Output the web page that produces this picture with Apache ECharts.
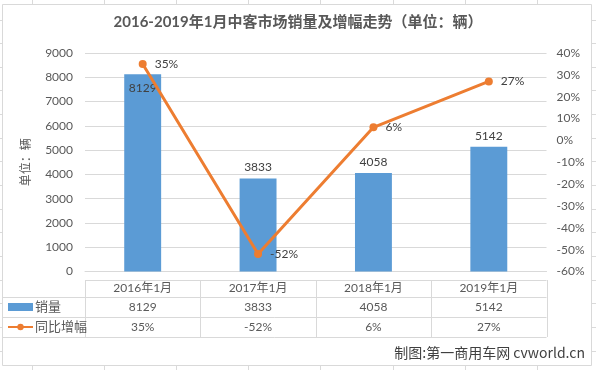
<!DOCTYPE html>
<html><head><meta charset="utf-8">
<script src="https://cdn.jsdelivr.net/npm/echarts@6/dist/echarts.min.js"></script>
<style>html,body{margin:0;padding:0;background:#fff}#c{width:596px;height:370px}</style>
</head><body><div id="c"></div>
<script>
// ---- data ----
const titleText = '2016-2019年1月中客市场销量及增幅走势（单位：辆）';
const categories = ['2016年1月', '2017年1月', '2018年1月', '2019年1月'];
const salesName = '销量';
const growthName = '同比增幅';
const sales = [8129, 3833, 4058, 5142];
const growth = [35, -52, 6, 27];
const leftAxis = { min: 0, max: 9000, interval: 1000 };
const rightAxis = { min: -60, max: 40, interval: 10 };
const yAxisTitle = '单位：辆';
const credit = '制图:第一商用车网 cvworld.cn';

// ---- layout ----
const W = 596, H = 370;
const G = { left: 85, right: 546.5, top: 53, bottom: 271.5 };
const frame = { x: 2, y: 4, w: 589, h: 361 };
const table = { top: 280, row: [297, 317, 337] };
const FONT = "Lato, 'Noto Sans CJK SC', sans-serif";
const gray = '#595959', lineGray = '#D9D9D9';
const barColor = '#5B9BD5', lineColor = '#ED7D31';

const chart = echarts.init(document.getElementById('c'), null, { renderer: 'canvas' });

const graphics = [];
// spreadsheet background grid
for (let x = 32; x < W; x += 72.1) graphics.push({ type: 'line', z: -10, shape: { x1: Math.round(x) + 0.5, y1: 0, x2: Math.round(x) + 0.5, y2: H }, style: { stroke: '#DADADA', lineWidth: 1 } });
for (let y = 19.5; y < H; y += 23.65) graphics.push({ type: 'line', z: -10, shape: { x1: 0, y1: Math.round(y) + 0.5, x2: W, y2: Math.round(y) + 0.5 }, style: { stroke: '#DADADA', lineWidth: 1 } });
// chart area
graphics.push({ type: 'rect', z: -5, shape: { x: frame.x + 0.5, y: frame.y + 0.5, width: frame.w, height: frame.h }, style: { fill: '#fff', stroke: lineGray, lineWidth: 1 } });
// data table lines
const n = categories.length, bw = (G.right - G.left) / n;
for (let i = 0; i <= n; i++) {
  const x = Math.round(G.left + i * bw) + 0.5;
  graphics.push({ type: 'line', shape: { x1: x, y1: table.top, x2: x, y2: table.row[2] }, style: { stroke: lineGray, lineWidth: 1 } });
}
graphics.push({ type: 'line', shape: { x1: G.left, y1: table.top + 0.5, x2: G.right, y2: table.top + 0.5 }, style: { stroke: lineGray, lineWidth: 1 } });
table.row.forEach(y => graphics.push({ type: 'line', shape: { x1: frame.x, y1: y + 0.5, x2: G.right, y2: y + 0.5 }, style: { stroke: lineGray, lineWidth: 1 } }));
// credit
graphics.push({ type: 'text', right: 11, top: 346, style: { text: credit, fill: '#404040', font: "14px 'Noto Sans CJK SC', sans-serif" } });

const fmtPct = v => v + '%';

chart.setOption({
  animation: false,
  textStyle: { fontFamily: FONT },
  title: {
    text: titleText, left: 'center', top: 10,
    textStyle: { color: gray, fontSize: 15, fontWeight: 'bold', fontFamily: FONT }
  },
  legend: {
    orient: 'vertical', left: 2, top: 295, itemGap: 6,
    itemWidth: 25, itemHeight: 8,
    textStyle: { color: gray, fontSize: 13, lineHeight: 14, padding: [0, 0, 0, -3] },
    data: [{ name: salesName, icon: 'rect' }, { name: growthName }]
  },
  grid: { left: G.left, right: W - G.right, top: G.top, bottom: H - G.bottom, containLabel: false },
  xAxis: [
    { type: 'category', data: categories, position: 'bottom',
      axisLine: { show: true, lineStyle: { color: lineGray } }, axisTick: { show: false },
      axisLabel: { color: gray, fontSize: 12, margin: 17, verticalAlign: 'middle' } },
    { type: 'category', data: sales.map(String), position: 'bottom', offset: 19,
      axisLine: { show: false }, axisTick: { show: false },
      axisLabel: { color: gray, fontSize: 12, margin: 17, verticalAlign: 'middle' } },
    { type: 'category', data: growth.map(fmtPct), position: 'bottom', offset: 39,
      axisLine: { show: false }, axisTick: { show: false },
      axisLabel: { color: gray, fontSize: 12, margin: 17, verticalAlign: 'middle' } }
  ],
  yAxis: [
    { type: 'value', min: leftAxis.min, max: leftAxis.max, interval: leftAxis.interval,
      name: yAxisTitle, nameLocation: 'middle', nameGap: 53, nameRotate: 90,
      nameTextStyle: { color: gray, fontSize: 12 },
      axisLine: { show: false }, axisTick: { show: false },
      axisLabel: { color: gray, fontSize: 12, margin: 12, formatter: v => String(v) },
      splitLine: { lineStyle: { color: lineGray } } },
    { type: 'value', min: rightAxis.min, max: rightAxis.max, interval: rightAxis.interval,
      axisLine: { show: false }, axisTick: { show: false },
      axisLabel: { color: gray, fontSize: 12, margin: 10, formatter: '{value}%' },
      splitLine: { show: false } }
  ],
  series: [
    { name: salesName, type: 'bar', xAxisIndex: 0, yAxisIndex: 0, barWidth: '32%',
      itemStyle: { color: barColor },
      data: sales.map((v, i) => ({ value: v, label: i === 0 ? { position: 'insideTop', distance: 8 } : {} })),
      label: { show: true, position: 'top', distance: 5, color: '#404040', fontSize: 12 } },
    { name: growthName, type: 'line', xAxisIndex: 0, yAxisIndex: 1, data: growth,
      symbol: 'circle', symbolSize: 8,
      lineStyle: { color: lineColor, width: 3 }, itemStyle: { color: lineColor },
      label: { show: true, position: 'right', distance: 8, color: '#404040', fontSize: 12, formatter: p => p.value + '%' } }
  ],
  graphic: graphics
});
</script></body></html>
